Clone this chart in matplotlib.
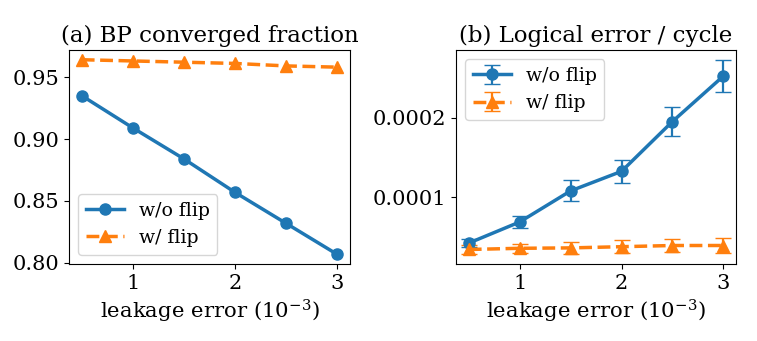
import matplotlib
matplotlib.use("Agg")
import matplotlib.pyplot as plt

plt.rcParams["font.family"] = "DejaVu Serif"
plt.rcParams["mathtext.fontset"] = "dejavuserif"
plt.rcParams["font.size"] = 15

leakage = [0.5, 1.0, 1.5, 2.0, 2.5, 3.0]

# (a) BP converged fraction
bp_noflip = [0.935, 0.909, 0.884, 0.857, 0.832, 0.807]
bp_flip = [0.964, 0.963, 0.962, 0.961, 0.959, 0.958]

# (b) logical error per cycle, with error bars
ler_noflip = [4.25e-5, 6.9e-5, 1.08e-4, 1.325e-4, 1.95e-4, 2.52e-4]
ler_noflip_err = [5.0e-6, 7.0e-6, 1.33e-5, 1.46e-5, 1.8e-5, 2.05e-5]
ler_flip = [3.45e-5, 3.6e-5, 3.65e-5, 3.8e-5, 3.95e-5, 3.95e-5]
ler_flip_err = [6.0e-6, 6.0e-6, 8.0e-6, 8.3e-6, 8.5e-6, 8.8e-6]

BLUE = "#1f77b4"
ORANGE = "#ff7f0e"

fig = plt.figure(figsize=(7.57, 3.41), dpi=100)
ax1 = fig.add_axes([0.0911, 0.2258, 0.371, 0.6276])
ax2 = fig.add_axes([0.6024, 0.2258, 0.370, 0.6276])

ax1.plot(leakage, bp_noflip, "-o", color=BLUE, lw=2.5, ms=8, label="w/o flip")
ax1.plot(leakage, bp_flip, "--^", color=ORANGE, lw=2.5, ms=8, label="w/ flip")
ax1.set_title("(a) BP converged fraction", fontsize=16.5)
ax1.set_xlabel(r"leakage error ($10^{-3}$)", fontsize=15.3)
ax1.set_yticks([0.80, 0.85, 0.90, 0.95])
ax1.legend(loc="lower left", fontsize=13.6)

ax2.errorbar(leakage, ler_noflip, yerr=ler_noflip_err, fmt="-o", color=BLUE,
             lw=2.5, ms=8, capsize=5.5, elinewidth=1.6, label="w/o flip")
ax2.errorbar(leakage, ler_flip, yerr=ler_flip_err, fmt="--^", color=ORANGE,
             lw=2.5, ms=8, capsize=5.5, elinewidth=1.6, label="w/ flip")
ax2.set_title("(b) Logical error / cycle", fontsize=16.5)
ax2.set_xlabel(r"leakage error ($10^{-3}$)", fontsize=15.3)
ax2.set_yticks([1e-4, 2e-4])
ax2.set_yticklabels(["0.0001", "0.0002"])
ax2.legend(loc="upper left", fontsize=13.6)

for ax in (ax1, ax2):
    ax.set_xticks([1, 2, 3])
    ax.set_xticklabels(["1", "2", "3"])

fig.savefig("out.png", dpi=100, facecolor="white")
